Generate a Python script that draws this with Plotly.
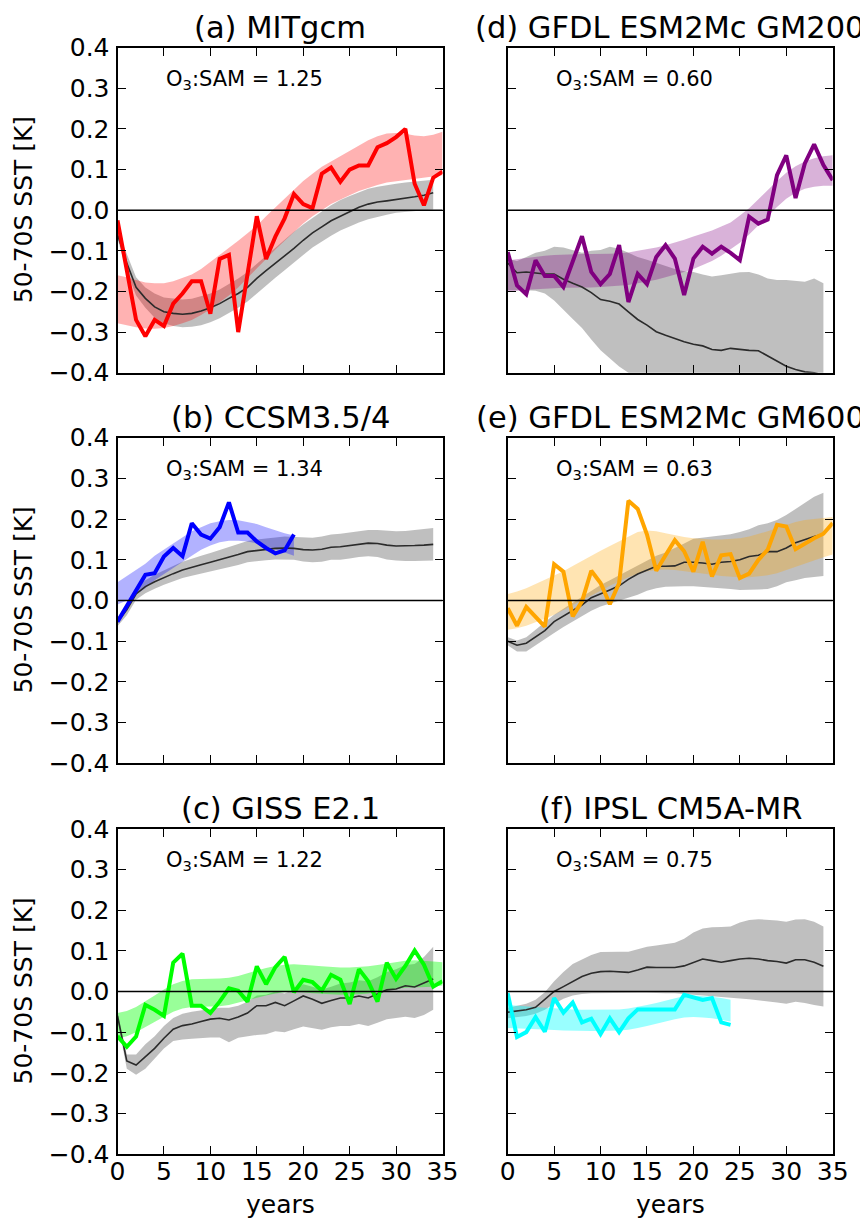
import plotly.graph_objects as go
from plotly.subplots import make_subplots

# ---------------- data ----------------
years35 = list(range(0, 35))   # 0..34 (ensemble means)
years36 = list(range(0, 36))   # 0..35

# (a) MITgcm
a_line = [-0.025, -0.15, -0.27, -0.31, -0.27, -0.285, -0.23, -0.205, -0.175, -0.175, -0.255, -0.12,
          -0.11, -0.30, -0.16, -0.015, -0.12, -0.065, -0.02, 0.04, 0.015, 0.005, 0.09, 0.105, 0.07, 0.10,
          0.11, 0.11, 0.155, 0.165, 0.18, 0.20, 0.065, 0.012, 0.08, 0.095]
a_band_up = [-0.16, -0.165, -0.172, -0.178, -0.18, -0.18, -0.175, -0.167, -0.158, -0.145, -0.128, -0.11,
             -0.093, -0.075, -0.057, -0.038, -0.015, 0.007, 0.028, 0.05, 0.072, 0.09, 0.107, 0.12, 0.133,
             0.144, 0.158, 0.172, 0.182, 0.189, 0.19, 0.188, 0.184, 0.182, 0.186, 0.193]
a_band_lo = [-0.278, -0.283, -0.288, -0.291, -0.292, -0.29, -0.285, -0.278, -0.27, -0.258, -0.244, -0.228,
             -0.21, -0.19, -0.168, -0.145, -0.12, -0.097, -0.075, -0.053, -0.033, -0.015, 0.0, 0.015, 0.027,
             0.037, 0.047, 0.055, 0.062, 0.068, 0.072, 0.075, 0.078, 0.08, 0.083, 0.086]
a_mean = [-0.06, -0.13, -0.19, -0.217, -0.238, -0.25, -0.254, -0.256, -0.254, -0.248, -0.24, -0.23, -0.217,
          -0.205, -0.19, -0.168, -0.149, -0.131, -0.113, -0.094, -0.074, -0.056, -0.041, -0.026, -0.015,
          -0.004, 0.007, 0.015, 0.02, 0.023, 0.026, 0.03, 0.033, 0.037, 0.043]
a_mean_up = [-0.05, -0.11, -0.165, -0.19, -0.205, -0.215, -0.218, -0.22, -0.218, -0.212, -0.205, -0.195,
             -0.182, -0.168, -0.152, -0.132, -0.112, -0.093, -0.073, -0.053, -0.035, -0.018, -0.003, 0.012,
             0.025, 0.035, 0.045, 0.053, 0.058, 0.062, 0.065, 0.068, 0.07, 0.072, 0.075]
a_mean_lo = [-0.07, -0.15, -0.21, -0.24, -0.265, -0.278, -0.285, -0.288, -0.287, -0.283, -0.276, -0.266,
             -0.254, -0.24, -0.225, -0.205, -0.185, -0.166, -0.148, -0.13, -0.11, -0.092, -0.077, -0.063,
             -0.05, -0.04, -0.03, -0.022, -0.016, -0.011, -0.006, -0.003, -0.001, 0.0, 0.002]

# (b) CCSM3.5/4
years20 = list(range(0, 20))
b_line = [-0.052, -0.013, 0.025, 0.063, 0.067, 0.108, 0.129, 0.109, 0.19, 0.162, 0.152, 0.18, 0.241,
          0.167, 0.167, 0.145, 0.129, 0.116, 0.123, 0.162]
b_band_up = [0.045, 0.06, 0.075, 0.09, 0.11, 0.125, 0.14, 0.155, 0.17, 0.18, 0.19, 0.195, 0.198, 0.197,
             0.193, 0.188, 0.18, 0.172, 0.165, 0.16]
b_band_lo = [-0.01, 0.0, 0.015, 0.03, 0.05, 0.065, 0.08, 0.095, 0.11, 0.125, 0.135, 0.143, 0.147, 0.147,
             0.145, 0.14, 0.133, 0.125, 0.118, 0.11]
b_mean = [-0.053, -0.023, 0.016, 0.034, 0.046, 0.057, 0.066, 0.075, 0.082, 0.088, 0.094, 0.1, 0.107, 0.113,
          0.12, 0.123, 0.126, 0.128, 0.129, 0.128, 0.125, 0.124, 0.126, 0.131, 0.132, 0.135, 0.139, 0.141,
          0.14, 0.136, 0.134, 0.134, 0.135, 0.136, 0.138]
b_mean_up = [-0.043, -0.01, 0.03, 0.05, 0.063, 0.075, 0.085, 0.095, 0.103, 0.11, 0.117, 0.124, 0.132, 0.139,
             0.146, 0.15, 0.153, 0.155, 0.157, 0.156, 0.154, 0.154, 0.157, 0.162, 0.164, 0.167, 0.171, 0.173,
             0.173, 0.171, 0.17, 0.171, 0.173, 0.175, 0.178]
b_mean_lo = [-0.063, -0.036, 0.002, 0.018, 0.029, 0.039, 0.047, 0.055, 0.061, 0.066, 0.071, 0.076, 0.082,
             0.087, 0.094, 0.096, 0.099, 0.101, 0.101, 0.1, 0.096, 0.094, 0.095, 0.1, 0.1, 0.103, 0.107, 0.109,
             0.107, 0.101, 0.098, 0.097, 0.097, 0.097, 0.098]

# (c) GISS E2.1
c_line = [-0.11, -0.136, -0.111, -0.033, -0.045, -0.06, 0.071, 0.093, -0.035, -0.035, -0.053, -0.025, 0.008,
          0.002, -0.025, 0.062, 0.018, 0.06, 0.085, -0.002, 0.029, 0.023, 0.002, 0.041, 0.029, -0.031, 0.055,
          0.025, -0.025, 0.071, 0.031, 0.063, 0.101, 0.066, 0.012, 0.025]
c_band_up = [-0.053, -0.048, -0.038, -0.025, -0.01, 0.005, 0.018, 0.026, 0.03, 0.031, 0.031, 0.032, 0.034,
             0.038, 0.045, 0.052, 0.058, 0.063, 0.066, 0.067, 0.066, 0.064, 0.062, 0.06, 0.059, 0.059, 0.06,
             0.062, 0.065, 0.069, 0.073, 0.076, 0.077, 0.076, 0.074, 0.072]
c_band_lo = [-0.115, -0.11, -0.1, -0.088, -0.075, -0.062, -0.05, -0.042, -0.038, -0.037, -0.037, -0.036,
             -0.033, -0.028, -0.022, -0.016, -0.01, -0.005, -0.002, -0.001, -0.002, -0.004, -0.006, -0.007,
             -0.008, -0.008, -0.007, -0.005, -0.002, 0.002, 0.006, 0.009, 0.011, 0.011, 0.012, 0.015]
c_mean = [-0.06, -0.171, -0.181, -0.16, -0.14, -0.115, -0.093, -0.084, -0.08, -0.074, -0.068, -0.066, -0.07,
          -0.063, -0.053, -0.035, -0.035, -0.027, -0.035, -0.023, -0.011, -0.019, -0.029, -0.022, -0.016,
          -0.016, -0.011, -0.016, -0.007, 0.004, 0.006, 0.014, 0.011, 0.021, 0.031]
c_mean_up = [-0.05, -0.155, -0.155, -0.13, -0.11, -0.085, -0.065, -0.055, -0.05, -0.046, -0.043, -0.04,
             -0.04, -0.035, -0.025, -0.01, -0.008, 0.0, -0.005, 0.005, 0.018, 0.012, 0.005, 0.012, 0.02,
             0.022, 0.028, 0.025, 0.035, 0.048, 0.055, 0.065, 0.068, 0.085, 0.11]
c_mean_lo = [-0.07, -0.19, -0.205, -0.19, -0.165, -0.14, -0.122, -0.118, -0.116, -0.114, -0.113, -0.113,
             -0.125, -0.114, -0.11, -0.107, -0.105, -0.098, -0.1, -0.093, -0.086, -0.09, -0.094, -0.088,
             -0.085, -0.085, -0.08, -0.085, -0.077, -0.068, -0.065, -0.062, -0.065, -0.058, -0.045]

# (d) GFDL ESM2Mc GM200
d_line = [-0.103, -0.185, -0.207, -0.123, -0.162, -0.162, -0.189, -0.126, -0.064, -0.152, -0.182, -0.157,
          -0.086, -0.226, -0.157, -0.182, -0.115, -0.086, -0.119, -0.209, -0.119, -0.09, -0.107, -0.09,
          -0.105, -0.123, -0.016, -0.033, -0.023, 0.086, 0.135, 0.03, 0.115, 0.162, 0.111, 0.074]
d_band_up = [-0.123, -0.12, -0.117, -0.114, -0.112, -0.11, -0.109, -0.108, -0.108, -0.108, -0.108, -0.107,
             -0.106, -0.104, -0.1, -0.096, -0.092, -0.086, -0.08, -0.073, -0.065, -0.058, -0.05, -0.04,
             -0.03, -0.013, 0.005, 0.027, 0.05, 0.072, 0.092, 0.108, 0.12, 0.128, 0.133, 0.135]
d_band_lo = [-0.2, -0.198, -0.196, -0.194, -0.193, -0.192, -0.191, -0.19, -0.19, -0.19, -0.189, -0.188,
             -0.186, -0.184, -0.18, -0.176, -0.171, -0.165, -0.159, -0.152, -0.145, -0.136, -0.125, -0.112,
             -0.097, -0.08, -0.06, -0.038, -0.015, 0.008, 0.028, 0.043, 0.053, 0.058, 0.06, 0.06]
d_mean = [-0.13, -0.154, -0.152, -0.154, -0.157, -0.157, -0.17, -0.18, -0.189, -0.203, -0.22, -0.224, -0.231,
          -0.25, -0.269, -0.283, -0.299, -0.308, -0.316, -0.324, -0.33, -0.334, -0.343, -0.345, -0.34,
          -0.343, -0.345, -0.346, -0.359, -0.373, -0.384, -0.392, -0.398, -0.4, -0.406]
d_mean_up = [-0.12, -0.125, -0.115, -0.105, -0.1, -0.09, -0.092, -0.098, -0.105, -0.1, -0.098, -0.09,
             -0.095, -0.105, -0.115, -0.122, -0.13, -0.138, -0.145, -0.15, -0.152, -0.158, -0.163, -0.16,
             -0.157, -0.153, -0.152, -0.158, -0.168, -0.172, -0.172, -0.174, -0.176, -0.168, -0.18]
d_mean_lo = [-0.197, -0.197, -0.197, -0.198, -0.205, -0.222, -0.245, -0.268, -0.29, -0.318, -0.345, -0.365,
             -0.385, -0.4, -0.42, -0.44, -0.46, -0.48, -0.5, -0.5, -0.5, -0.5, -0.5, -0.5, -0.5, -0.5, -0.5,
             -0.5, -0.5, -0.5, -0.5, -0.5, -0.5, -0.5, -0.5]

# (e) GFDL ESM2Mc GM600
e_line = [-0.019, -0.062, -0.016, -0.039, -0.064, 0.089, 0.071, -0.039, -0.002, 0.073, 0.043, -0.009, 0.043,
          0.245, 0.225, 0.162, 0.073, 0.111, 0.148, 0.121, 0.071, 0.144, 0.059, 0.111, 0.114, 0.055, 0.066,
          0.1, 0.125, 0.186, 0.182, 0.126, 0.14, 0.153, 0.164, 0.19]
e_band_up = [0.016, 0.022, 0.03, 0.04, 0.05, 0.06, 0.072, 0.085, 0.098, 0.11, 0.122, 0.134, 0.146, 0.158,
             0.168, 0.172, 0.17, 0.165, 0.16, 0.156, 0.153, 0.151, 0.15, 0.15, 0.151, 0.153, 0.157, 0.163,
             0.17, 0.178, 0.186, 0.193, 0.198, 0.201, 0.203, 0.205]
e_band_lo = [-0.072, -0.068, -0.062, -0.054, -0.045, -0.035, -0.024, -0.012, 0.0, 0.012, 0.024, 0.036,
             0.047, 0.057, 0.066, 0.072, 0.075, 0.076, 0.075, 0.072, 0.069, 0.066, 0.063, 0.06, 0.058, 0.057,
             0.057, 0.059, 0.062, 0.067, 0.074, 0.082, 0.09, 0.098, 0.106, 0.113]
e_mean = [-0.1, -0.11, -0.105, -0.089, -0.074, -0.052, -0.039, -0.025, -0.011, 0.007, 0.016, 0.026, 0.036,
          0.052, 0.065, 0.075, 0.084, 0.084, 0.085, 0.094, 0.094, 0.092, 0.089, 0.094, 0.096, 0.1, 0.108,
          0.111, 0.12, 0.12, 0.129, 0.142, 0.15, 0.157, 0.163]
e_mean_up = [-0.09, -0.098, -0.09, -0.072, -0.055, -0.035, -0.02, -0.005, 0.01, 0.025, 0.038, 0.05, 0.062,
             0.075, 0.088, 0.1, 0.11, 0.118, 0.128, 0.14, 0.152, 0.155, 0.158, 0.16, 0.163, 0.168, 0.175,
             0.185, 0.19, 0.198, 0.21, 0.225, 0.24, 0.255, 0.265]
e_mean_lo = [-0.11, -0.125, -0.125, -0.11, -0.095, -0.08, -0.065, -0.05, -0.038, -0.025, -0.015, -0.007, 0.0,
             0.007, 0.014, 0.024, 0.03, 0.034, 0.035, 0.035, 0.035, 0.034, 0.032, 0.03, 0.028, 0.026, 0.027,
             0.027, 0.028, 0.035, 0.045, 0.05, 0.055, 0.058, 0.06]

# (f) IPSL CM5A-MR
years25 = list(range(0, 25))
f_line = [-0.004, -0.112, -0.1, -0.063, -0.099, -0.016, -0.052, -0.027, -0.076, -0.067, -0.105, -0.066, -0.1,
          -0.066, -0.044, -0.044, -0.045, -0.045, -0.044, -0.008, -0.014, -0.021, -0.016, -0.076, -0.082]
f_band_up = [-0.033, -0.035, -0.037, -0.039, -0.04, -0.041, -0.043, -0.044, -0.045, -0.045, -0.045, -0.045,
             -0.044, -0.042, -0.038, -0.033, -0.028, -0.022, -0.016, -0.011, -0.01, -0.011, -0.013, -0.016,
             -0.02]
f_band_lo = [-0.09, -0.092, -0.093, -0.094, -0.094, -0.095, -0.096, -0.096, -0.097, -0.097, -0.097, -0.097,
             -0.096, -0.094, -0.09, -0.085, -0.08, -0.074, -0.068, -0.064, -0.063, -0.064, -0.066, -0.07,
             -0.074]
f_mean = [-0.051, -0.048, -0.045, -0.039, -0.02, 0.0, 0.012, 0.025, 0.037, 0.045, 0.049, 0.05, 0.048, 0.047,
          0.053, 0.06, 0.059, 0.059, 0.059, 0.063, 0.071, 0.08, 0.076, 0.072, 0.076, 0.08, 0.082, 0.08, 0.076,
          0.074, 0.07, 0.078, 0.078, 0.072, 0.062]
f_mean_up = [-0.04, -0.035, -0.03, -0.02, -0.002, 0.025, 0.048, 0.068, 0.08, 0.09, 0.097, 0.098, 0.098,
             0.098, 0.104, 0.11, 0.113, 0.116, 0.12, 0.13, 0.145, 0.155, 0.158, 0.159, 0.16, 0.17, 0.176,
             0.178, 0.177, 0.175, 0.172, 0.177, 0.178, 0.172, 0.16]
f_mean_lo = [-0.066, -0.063, -0.06, -0.055, -0.045, -0.03, -0.018, -0.01, -0.006, -0.004, -0.003, -0.003,
             -0.003, -0.003, -0.003, -0.003, -0.003, -0.004, -0.004, -0.005, -0.007, -0.009, -0.011, -0.013,
             -0.015, -0.017, -0.019, -0.021, -0.024, -0.027, -0.03, -0.025, -0.028, -0.033, -0.037]

titles = ["(a) MITgcm", "(d) GFDL ESM2Mc GM200", "(b) CCSM3.5/4",
          "(e) GFDL ESM2Mc GM600", "(c) GISS E2.1", "(f) IPSL CM5A-MR"]
ratios = ["1.25", "0.60", "1.34", "0.63", "1.22", "0.75"]
ytick_vals = [-0.4, -0.3, -0.2, -0.1, 0.0, 0.1, 0.2, 0.3, 0.4]
ytick_text = ["\u22120.4", "\u22120.3", "\u22120.2", "\u22120.1", "0.0", "0.1", "0.2", "0.3", "0.4"]
xtick_vals = [0, 5, 10, 15, 20, 25, 30, 35]

# panels in make_subplots order (row-major)
panels = [
    dict(xl=years36, line=a_line, up=a_band_up, lo=a_band_lo, mean=a_mean, mup=a_mean_up, mlo=a_mean_lo,
         color="#ff0000", fill="rgba(255,0,0,0.3)"),
    dict(xl=years36, line=d_line, up=d_band_up, lo=d_band_lo, mean=d_mean, mup=d_mean_up, mlo=d_mean_lo,
         color="#800080", fill="rgba(128,0,128,0.3)"),
    dict(xl=years20, line=b_line, up=b_band_up, lo=b_band_lo, mean=b_mean, mup=b_mean_up, mlo=b_mean_lo,
         color="#0000ff", fill="rgba(0,0,255,0.3)"),
    dict(xl=years36, line=e_line, up=e_band_up, lo=e_band_lo, mean=e_mean, mup=e_mean_up, mlo=e_mean_lo,
         color="#ffa500", fill="rgba(255,165,0,0.3)"),
    dict(xl=years36, line=c_line, up=c_band_up, lo=c_band_lo, mean=c_mean, mup=c_mean_up, mlo=c_mean_lo,
         color="#00ff00", fill="rgba(0,255,0,0.4)"),
    dict(xl=years25, line=f_line, up=f_band_up, lo=f_band_lo, mean=f_mean, mup=f_mean_up, mlo=f_mean_lo,
         color="#00ffff", fill="rgba(0,255,255,0.4)"),
]

# ---------------- figure ----------------
# the page body has an 8px margin, so the figure is 8px smaller than the window
OFF = 8
W, H = 868 - OFF, 1221 - OFF
fig = make_subplots(rows=3, cols=2)

col_px = [(117.5, 442.5), (507.7, 832.7)]
row_px = [(47.7, 372.7), (437.7, 763.3), (829.0, 1154.0)]
FONT = "DejaVu Sans"
TICK = 25

for i, p in enumerate(panels):
    r, c = i // 2 + 1, i % 2 + 1
    # ensemble spread (grey)
    fig.add_trace(go.Scatter(x=years35 + years35[::-1], y=p["mup"] + p["mlo"][::-1], fill="toself",
                             fillcolor="rgba(0,0,0,0.25)", line=dict(width=0), mode="lines",
                             hoverinfo="skip", showlegend=False), row=r, col=c)
    # model band
    xl = p["xl"]
    fig.add_trace(go.Scatter(x=xl + xl[::-1], y=p["up"] + p["lo"][::-1], fill="toself",
                             fillcolor=p["fill"], line=dict(width=0), mode="lines",
                             hoverinfo="skip", showlegend=False), row=r, col=c)
    # ensemble mean
    fig.add_trace(go.Scatter(x=years35, y=p["mean"], mode="lines",
                             line=dict(color="#2b2b2b", width=1.6), showlegend=False), row=r, col=c)
    # model line
    fig.add_trace(go.Scatter(x=xl, y=p["line"], mode="lines",
                             line=dict(color=p["color"], width=4), showlegend=False), row=r, col=c)

for i in range(6):
    r, c = i // 2, i % 2
    ax = "" if i == 0 else str(i + 1)
    top, bot = row_px[r]
    left, right = col_px[c]
    fig.layout["xaxis" + ax].update(
        domain=((left - OFF) / W, (right - OFF) / W), range=[0, 35], tickvals=xtick_vals, ticks="inside",
        ticklen=8, tickwidth=1.3, tickcolor="black", showline=True, linecolor="black", linewidth=2,
        mirror="ticks", showgrid=False, zeroline=False, showticklabels=(r == 2), automargin=False,
        tickfont=dict(family=FONT, size=TICK, color="black"), ticklabelstandoff=-6)
    fig.layout["yaxis" + ax].update(
        domain=(1 - (bot - OFF) / H, 1 - (top - OFF) / H), range=[-0.4, 0.4], tickvals=ytick_vals,
        ticktext=ytick_text, ticks="inside", ticklen=8, tickwidth=1.3, tickcolor="black", showline=True,
        linecolor="black", linewidth=2, mirror="ticks", showgrid=False, zeroline=False,
        showticklabels=(c == 0), automargin=False,
        tickfont=dict(family=FONT, size=TICK, color="black"), ticklabelstandoff=1)
    xr = "x" + ax
    yr = "y" + ax
    # zero line
    fig.add_shape(type="line", xref=xr + " domain", yref=yr, x0=0, x1=1, y0=0, y1=0,
                  line=dict(color="black", width=1.6))
    # title
    fig.add_annotation(text=titles[i], xref=xr + " domain", yref=yr + " domain", x=0.5, y=1,
                       yanchor="middle", yshift=20, showarrow=False,
                       font=dict(family=FONT, size=30.5, color="black"))
    # ratio text
    fig.add_annotation(text="O<sub>3</sub>:SAM = " + ratios[i], xref=xr, yref=yr, x=5, y=0.32,
                       xanchor="left", yanchor="middle", showarrow=False,
                       font=dict(family=FONT, size=21, color="black"))
    if c == 0:
        fig.add_annotation(text="50-70S SST [K]", xref="paper", yref=yr + " domain", x=(23 - OFF) / W,
                           y=0.5, textangle=-90, xanchor="center", yanchor="middle", showarrow=False,
                           font=dict(family=FONT, size=25, color="black"))
    if r == 2:
        fig.add_annotation(text="years", xref=xr + " domain", yref="paper", x=0.5, y=0,
                           xanchor="center", yanchor="bottom", showarrow=False,
                           font=dict(family=FONT, size=25, color="black"))

fig.update_layout(template="none", width=W, height=H, margin=dict(l=0, r=0, t=0, b=0, autoexpand=False),
                  paper_bgcolor="white", plot_bgcolor="white", showlegend=False,
                  font=dict(family=FONT, color="black"))

fig.write_html("out.html")
